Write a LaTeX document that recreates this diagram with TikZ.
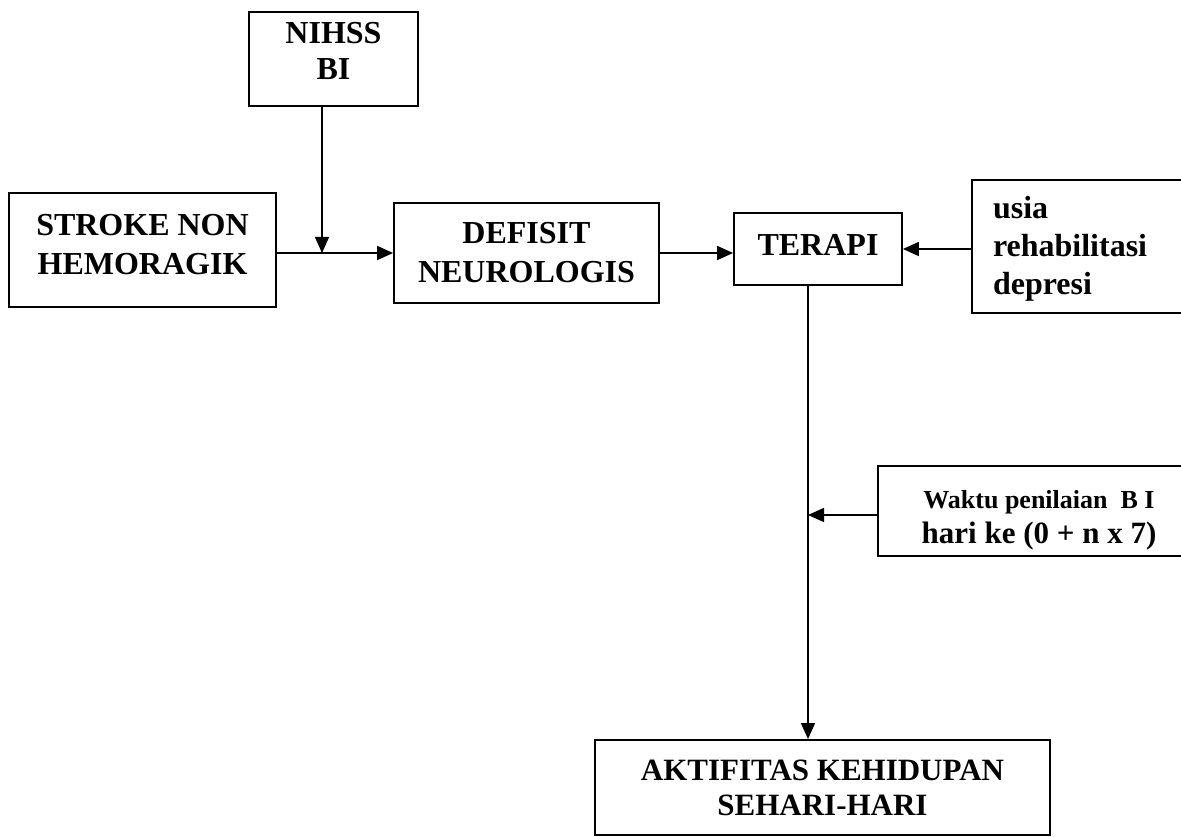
\documentclass[tikz,border=0pt]{standalone}
\usepackage{fontspec}
\setmainfont{Liberation Serif}
\usetikzlibrary{arrows.meta}
\newcommand{\dpstrut}[1]{\rule[-#1]{0pt}{#1}}
\begin{document}
\begin{tikzpicture}[x=1pt,y=-1pt,
  box/.style={draw, line width=1.8pt, inner sep=0pt, align=center,
    font=\bfseries\fontsize{32}{38}\selectfont},
  arr/.style={line width=1.5pt, -{Triangle[length=16pt,width=14pt]}}]
\useasboundingbox (0,0) rectangle (1181,837);

\node[box, minimum width=169pt, minimum height=94pt, font=\bfseries\fontsize{32}{36}\selectfont]
  (nihss) at (333.5,59) {NIHSS\\BI\dpstrut{17pt}};
\node[box, minimum width=267pt, minimum height=114pt, font=\bfseries\fontsize{32}{39}\selectfont]
  (stroke) at (142.5,250) {STROKE NON\\HEMORAGIK\dpstrut{11pt}};
\node[box, minimum width=265pt, minimum height=100pt, font=\bfseries\fontsize{32}{39}\selectfont]
  (defisit) at (526.5,253) {DEFISIT\\NEUROLOGIS};
\node[box, minimum width=168pt, minimum height=72pt]
  (terapi) at (818,249) {TERAPI\dpstrut{8pt}};
\node[box, minimum height=133pt, text width=186pt, inner xsep=21pt, align=left,
  font=\bfseries\fontsize{32}{38}\selectfont]
  (usia) at (1086,246.5) {\rule{0pt}{26pt}usia\\rehabilitasi\\depresi};
\node[box, minimum width=322pt, minimum height=90pt]
  (waktu) at (1039,511) {{\fontsize{26}{30}\selectfont\rule{0pt}{36pt}Waktu penilaian~~B I}\\[-3pt]{\fontsize{31}{36}\selectfont hari ke (0 + n x 7)}};
\node[box, minimum width=455pt, minimum height=95pt, font=\bfseries\fontsize{31}{35}\selectfont]
  (akt) at (822.5,787.5) {AKTIFITAS KEHIDUPAN\\SEHARI-HARI};

\coordinate (j1) at (322,253);
\coordinate (j2) at (808,515);

\draw[arr] (stroke.east |- defisit.west) -- (defisit.west);
\draw[arr] (nihss.south -| j1) -- (j1);
\draw[arr] (defisit.east) -- (terapi.west |- defisit.east);
\draw[arr] (usia.west |- terapi.east) -- (terapi.east);
\draw[arr] (terapi.south -| j2) -- (j2 |- akt.north);
\draw[arr] (waktu.west |- j2) -- (j2);
\end{tikzpicture}
\end{document}
